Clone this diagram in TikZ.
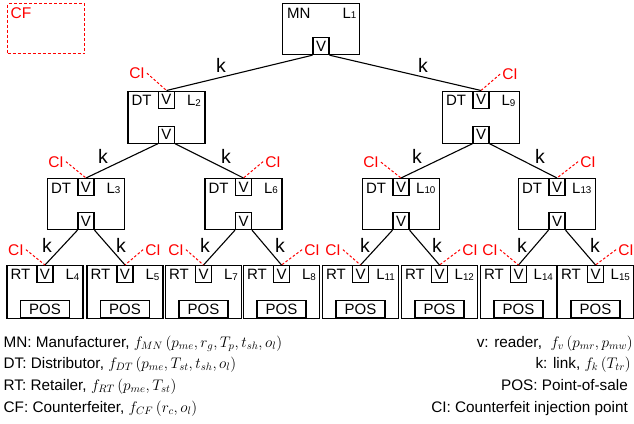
\RequirePackage{fix-cm}
\documentclass[tikz,border=0pt]{standalone}
\usepackage[no-math]{fontspec}
\setmainfont{Liberation Sans}
\usetikzlibrary{calc}
\newcommand\bxfont{\fontsize{15}{18}\selectfont}
\newcommand\kfont{\fontsize{19.5}{22}\selectfont}
\newcommand\cifont{\fontsize{15.5}{18}\selectfont}
\newcommand\lgfont{\fontsize{15.3}{18}\selectfont}
\newcommand\Lsub[1]{L\raisebox{-0.6pt}{\fontsize{9.8}{9.8}\selectfont #1}}
\tikzset{
  blk/.style={draw, line width=1.2pt, minimum width=77pt, minimum height=52pt, inner sep=0pt, anchor=north},
  rdr/.style={draw, line width=1.1pt, minimum width=16pt, minimum height=17pt, inner sep=0pt, font=\bxfont},
  lbl/.style={inner sep=0pt, font=\bxfont},
  lnk/.style={line width=1.1pt},
  cilbl/.style={text=red, inner sep=2pt, font=\cifont, anchor=base},
  ciline/.style={red, line width=1pt, dash pattern=on 2.5pt off 2pt},
  klbl/.style={inner sep=0pt, anchor=base, font=\kfont},
  posbox/.style={draw, line width=1.1pt, minimum width=49pt, minimum height=16.5pt, inner sep=0pt, font=\bxfont, anchor=south},
  lg/.style={inner sep=0pt, font=\lgfont},
}
\begin{document}
\begin{tikzpicture}[x=1pt, y=-1pt]
\useasboundingbox (0,0) rectangle (634,423);
% counterfeiter box
\node[draw=red, line width=1.3pt, dash pattern=on 3pt off 2pt, minimum width=77pt, minimum height=50pt, inner sep=0pt, anchor=north west] (cf) at (7,3) {};
\node[inner sep=0pt, font=\cifont, text=red, anchor=base west] (cft) at ($(cf.north west)+(3.5,15.5)$) {CF};
% manufacturer
\node[blk, minimum height=51pt] (mn) at (321,3) {};
\node[rdr, anchor=south] (mnv) at (mn.south) {V};
\node[lbl, anchor=base west] (mnt) at ($(mn.north west)+(5,15)$) {MN};
\node[lbl, anchor=base east] (mnl) at ($(mn.north east)+(-3.5,15)$) {\Lsub{1}};
% distributors level 1
\foreach \n/\x in {2/166.5, 9/481}{
  \node[blk] (L\n) at (\x,90.5) {};
  \node[rdr, anchor=north] (L\n t) at (L\n.north) {V};
  \node[rdr, anchor=south] (L\n b) at (L\n.south) {V};
  \node[lbl, anchor=base west] (L\n n) at ($(L\n.north west)+(4,15)$) {DT};
  \node[lbl, anchor=base east] (L\n l) at ($(L\n.north east)+(-4.5,15)$) {\Lsub{\n}};
}
% distributors level 2
\foreach \n/\x in {3/86, 6/243.5, 10/401, 13/557}{
  \node[blk, minimum height=51pt] (L\n) at (\x,178) {};
  \node[rdr, anchor=north] (L\n t) at (L\n.north) {V};
  \node[rdr, anchor=south] (L\n b) at (L\n.south) {V};
  \node[lbl, anchor=base west] (L\n n) at ($(L\n.north west)+(4,15)$) {DT};
  \node[lbl, anchor=base east] (L\n l) at ($(L\n.north east)+(-4.5,15)$) {\Lsub{\n}};
}
% retailers
\foreach \n/\x in {4/45, 5/125, 7/203.5, 8/281.5, 11/360.5, 12/439.5, 14/518.5, 15/595.5}{
  \node[blk, minimum width=76pt, minimum height=53pt] (L\n) at (\x,265) {};
  \node[rdr, anchor=north] (L\n t) at (L\n.north) {V};
  \node[posbox] (L\n p) at ($(L\n.south)+(0,-1.5)$) {POS};
  \node[lbl, anchor=base west] (L\n n) at ($(L\n.north west)+(4,14.5)$) {RT};
  \node[lbl, anchor=base east] (L\n l) at ($(L\n.north east)+(-4,14.5)$) {\Lsub{\n}};
}
% links
\draw[lnk] (mnv.south west) -- (L2t.north);
\draw[lnk] (mnv.south east) -- (L9t.north);
\draw[lnk] (L2b.south west) -- (L3t.north);
\draw[lnk] (L2b.south east) -- (L6t.north);
\draw[lnk] (L9b.south west) -- (L10t.north);
\draw[lnk] (L9b.south east) -- (L13t.north);
\draw[lnk] (L3b.south west) -- (L4t.north);
\draw[lnk] (L3b.south east) -- (L5t.north);
\draw[lnk] (L6b.south west) -- (L7t.north);
\draw[lnk] (L6b.south east) -- (L8t.north);
\draw[lnk] (L10b.south west) -- (L11t.north);
\draw[lnk] (L10b.south east) -- (L12t.north);
\draw[lnk] (L13b.south west) -- (L14t.north);
\draw[lnk] (L13b.south east) -- (L15t.north);
% k labels
\foreach \n/\x/\y in {2/221/72, 9/423/72, 3/103/163, 6/226/163, 10/417/163, 13/540/163,
  4/47/252, 5/121/252, 7/205/252, 8/280/252, 11/365/252, 12/437/252, 14/522/252, 15/595/252}{
  \node[klbl] (k\n) at (\x,\y) {k};
}
% counterfeit injection points (left children)
\foreach \n/\x/\y in {2/137/78.5, 3/56/167, 10/371/167.5, 4/16/255, 7/176/255, 11/333/255, 14/490/255}{
  \node[cilbl] (ci\n) at (\x,\y) {CI};
  \draw[ciline] (ci\n.east) -- (L\n t.north);
}
% counterfeit injection points (right children)
\foreach \n/\x/\y in {9/510/79.5, 6/273/167, 13/588/167, 5/153/255, 8/312/255, 12/470/255, 15/626/255}{
  \node[cilbl] (ci\n) at (\x,\y) {CI};
  \draw[ciline] (ci\n.west) -- (L\n t.north);
}
% legend
\node[lg, anchor=base west] (lg1) at (3.5,347) {MN: Manufacturer, $f_{MN}\left(p_{me},r_g,T_p,t_{sh},o_l\right)$};
\node[lg, anchor=base west] (lg2) at (3.5,368.5) {DT: Distributor, $f_{DT}\left(p_{me},T_{st},t_{sh},o_l\right)$};
\node[lg, anchor=base west] (lg3) at (3.5,390) {RT: Retailer, $f_{RT}\left(p_{me},T_{st}\right)$};
\node[lg, anchor=base west] (lg4) at (3.5,412) {CF: Counterfeiter, $f_{CF}\left(r_c,o_l\right)$};
\node[lg, anchor=base east] (lg5) at (633,347) {v: reader,\ \ $f_v\left(p_{mr},p_{mw}\right)$};
\node[lg, anchor=base east] (lg6) at (631,368.5) {k: link, $f_k\left(T_{tr}\right)$};
\node[lg, anchor=base east] (lg7) at (628,390) {POS: Point-of-sale};
\node[lg, anchor=base east] (lg8) at (628,412) {CI: Counterfeit injection point};
\end{tikzpicture}
\end{document}
